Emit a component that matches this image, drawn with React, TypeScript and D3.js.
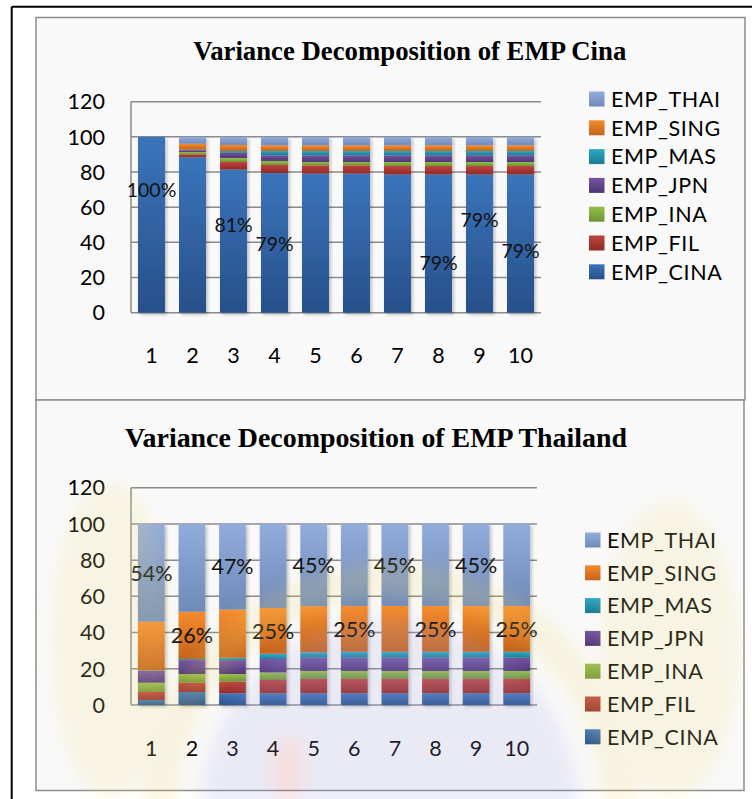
import React from 'react';
import * as d3 from 'd3';

// Forecast horizons
const periods = ['1', '2', '3', '4', '5', '6', '7', '8', '9', '10'];
const seriesKeys = ['EMP_CINA', 'EMP_FIL', 'EMP_INA', 'EMP_JPN', 'EMP_MAS', 'EMP_SING', 'EMP_THAI'];
const yTicks = [0, 20, 40, 60, 80, 100, 120];

// Variance decomposition of EMP Cina (%)
const cinaCINA = [100, 88.4, 81.4, 79.4, 79.1, 79.1, 78.6, 78.6, 78.6, 78.6];
const cinaFIL = [0, 1.7, 4.3, 4.6, 4.7, 4.7, 4.8, 4.8, 4.8, 4.8];
const cinaINA = [0, 1.3, 2.3, 2.3, 1.9, 1.9, 2.3, 2.3, 2.3, 2.3];
const cinaJPN = [0, 1.0, 3.0, 3.2, 3.8, 3.8, 3.8, 3.8, 3.8, 3.8];
const cinaMAS = [0, 0.3, 1.0, 2.5, 2.5, 2.5, 2.5, 2.5, 2.5, 2.5];
const cinaSING = [0, 3.4, 3.4, 3.2, 3.2, 3.2, 3.2, 3.2, 3.2, 3.2];
const cinaTHAI = [0, 3.9, 4.6, 4.8, 4.8, 4.8, 4.8, 4.8, 4.8, 4.8];
// labelled EMP_CINA bars and the height (in % units) where each label sits
const cinaLabelPeriods = ['1', '3', '4', '8', '9', '10'];
const cinaLabelHeights = [70, 50, 39, 28.4, 52.7, 35.1];

// Variance decomposition of EMP Thailand (%)
const thaiCINA = [2.8, 7.2, 6.4, 6.4, 6.4, 6.4, 6.4, 6.4, 6.4, 6.4];
const thaiFIL = [4.4, 5.1, 6.5, 7.4, 8.0, 8.0, 8.0, 8.0, 8.0, 8.0];
const thaiINA = [5.1, 4.8, 4.2, 4.2, 4.4, 4.4, 4.4, 4.4, 4.4, 4.4];
const thaiJPN = [6.5, 7.7, 7.7, 7.4, 7.3, 7.3, 7.3, 7.3, 7.3, 7.3];
const thaiMAS = [0.3, 0.6, 1.3, 2.9, 3.0, 3.3, 3.3, 3.3, 3.3, 3.3];
const thaiSING = [26.9, 26.1, 26.6, 25.3, 25.5, 25.3, 25.3, 25.3, 25.3, 25.3];
const thaiTHAI = [54.0, 48.5, 47.3, 46.4, 45.4, 45.3, 45.3, 45.3, 45.3, 45.3];
// which segment carries the data label on each bar
const thaiLabelSeries = ['EMP_THAI', 'EMP_SING', 'EMP_THAI', 'EMP_SING', 'EMP_THAI', 'EMP_SING', 'EMP_THAI', 'EMP_SING', 'EMP_THAI', 'EMP_SING'];

const gradientStops: Record<string, [string, string]> = {
  EMP_CINA: ['#3b74bb', '#27508a'],
  EMP_FIL: ['#c1413d', '#8e2a28'],
  EMP_INA: ['#95be4c', '#6e9334'],
  EMP_JPN: ['#7553a3', '#4e3676'],
  EMP_MAS: ['#2fa9c5', '#1b7b92'],
  EMP_SING: ['#f68b2d', '#c3621b'],
  EMP_THAI: ['#92acdc', '#6f8ab8'],
};

const numFont = 'Lato, "Open Sans", sans-serif';
const titleFont = '"Liberation Serif", "Times New Roman", serif';

type PanelProps = {
  title: string;
  titleX: number;
  titleY: number;
  titleSize: number;
  titleWidth: number;
  columns: Record<string, number[]>;
  top: number;
  bottom: number;
  left: number;
  right: number;
  xLabelY: number;
  legendX: number;
  legendY0: number;
  legendStep: number;
  labelSize: number;
  labels: { period: string; key: string; at?: number }[];
};

function Panel(p: PanelProps) {
  const rows = periods.map((period, i) => {
    const r: any = { period };
    seriesKeys.forEach((k) => (r[k] = p.columns[k][i]));
    return r;
  });
  const stacked = d3.stack<any>().keys(seriesKeys)(rows);
  const x = d3.scaleBand<string>().domain(periods).range([p.left, p.right]).paddingInner(0.34).paddingOuter(0.17);
  const y = d3.scaleLinear().domain([0, 120]).range([p.bottom, p.top]);
  const legendOrder = [...seriesKeys].reverse();

  return (
    <g>
      <text
        x={p.titleX}
        y={p.titleY}
        fontFamily={titleFont}
        fontWeight="bold"
        fontSize={p.titleSize}
        textLength={p.titleWidth}
        lengthAdjust="spacingAndGlyphs"
        fill="#000"
      >
        {p.title}
      </text>

      {/* grid lines and axes */}
      {yTicks.map((t) => (
        <line key={t} x1={p.left} x2={p.right} y1={y(t)} y2={y(t)} stroke="#8a8a8a" strokeWidth={1.5} />
      ))}
      <line x1={p.left} x2={p.left} y1={y(120)} y2={y(0)} stroke="#8a8a8a" strokeWidth={1.5} />
      {yTicks.map((t) => (
        <text key={t} x={105} y={y(t)} dy="0.36em" textAnchor="end" fontFamily={numFont} fontSize={21.5} fill="#000">
          {t}
        </text>
      ))}

      {/* stacked bars */}
      <g filter="url(#barShadow)">
        {stacked.map((layer) =>
          layer.map((d, i) => {
            const h = y(d[0]) - y(d[1]);
            if (h <= 0) return null;
            return (
              <rect
                key={layer.key + i}
                x={x(periods[i])}
                y={y(d[1])}
                width={x.bandwidth()}
                height={h}
                fill={`url(#grad-${layer.key})`}
              />
            );
          })
        )}
      </g>

      {periods.map((per) => (
        <text
          key={per}
          x={(x(per) as number) + x.bandwidth() / 2}
          y={p.xLabelY}
          dy="0.36em"
          textAnchor="middle"
          fontFamily={numFont}
          fontSize={21.5}
          fill="#000"
        >
          {per}
        </text>
      ))}

      {/* data labels */}
      {p.labels.map((l) => {
        const i = periods.indexOf(l.period);
        const layer = stacked.find((s) => s.key === l.key)!;
        const seg = layer[i];
        const value = seg[1] - seg[0];
        const at = l.at !== undefined ? l.at : (seg[0] + seg[1]) / 2;
        return (
          <text
            key={l.period + l.key}
            x={(x(l.period) as number) + x.bandwidth() / 2}
            y={y(at)}
            dy="0.36em"
            textAnchor="middle"
            fontFamily={numFont}
            fontSize={p.labelSize}
            fill="#111"
          >
            {`${Math.round(value)}%`}
          </text>
        );
      })}

      {/* legend */}
      {legendOrder.map((k, i) => {
        const cy = p.legendY0 + i * p.legendStep;
        return (
          <g key={k}>
            <rect x={p.legendX} y={cy - 7.5} width={15.5} height={15} fill={`url(#grad-${k})`} />
            <text
              x={p.legendX + 22}
              y={cy}
              dy="0.36em"
              fontFamily={numFont}
              fontSize={21.5}
              letterSpacing={0.6}
              fill="#000"
            >
              {k}
            </text>
          </g>
        );
      })}
    </g>
  );
}

export default function App() {
  const cinaColumns = {
    EMP_CINA: cinaCINA,
    EMP_FIL: cinaFIL,
    EMP_INA: cinaINA,
    EMP_JPN: cinaJPN,
    EMP_MAS: cinaMAS,
    EMP_SING: cinaSING,
    EMP_THAI: cinaTHAI,
  };
  const thaiColumns = {
    EMP_CINA: thaiCINA,
    EMP_FIL: thaiFIL,
    EMP_INA: thaiINA,
    EMP_JPN: thaiJPN,
    EMP_MAS: thaiMAS,
    EMP_SING: thaiSING,
    EMP_THAI: thaiTHAI,
  };
  const cinaLabels = cinaLabelPeriods.map((period, i) => ({ period, key: 'EMP_CINA', at: cinaLabelHeights[i] }));
  const thaiLabels = periods.map((period, i) => ({ period, key: thaiLabelSeries[i] }));

  return (
    <svg
      width={752}
      height={799}
      style={{ position: 'absolute', left: 0, top: 0, background: '#fff' }}
      xmlns="http://www.w3.org/2000/svg"
    >
      <defs>
        {seriesKeys.map((k) => (
          <linearGradient key={k} id={`grad-${k}`} x1="0" y1="0" x2="0" y2="1">
            <stop offset="0" stopColor={gradientStops[k][0]} />
            <stop offset="1" stopColor={gradientStops[k][1]} />
          </linearGradient>
        ))}
        <filter id="barShadow" x="-10%" y="-10%" width="130%" height="130%">
          <feDropShadow dx={2} dy={2} stdDeviation={1.6} floodColor="#000" floodOpacity={0.22} />
        </filter>
        <filter id="soft" x="-20%" y="-20%" width="140%" height="140%">
          <feGaussianBlur stdDeviation={8} />
        </filter>
      </defs>

      <rect x={0} y={0} width={752} height={799} fill="#fff" />
      {/* outer frame */}
      <line x1={11.7} x2={11.7} y1={6.7} y2={799} stroke="#000" strokeWidth={2} />
      <line x1={11.7} x2={752} y1={6.7} y2={6.7} stroke="#000" strokeWidth={2} />

      {/* chart boxes */}
      <rect x={36} y={17.5} width={709} height={382.5} fill="#f9f9f9" stroke="#8c8c8c" strokeWidth={1.5} />
      <rect x={36} y={400} width={708} height={390.5} fill="#f9f9f9" stroke="#8c8c8c" strokeWidth={1.5} />

      <Panel
        title="Variance Decomposition of EMP Cina"
        titleX={193.3}
        titleY={60}
        titleSize={26.5}
        titleWidth={433}
        columns={cinaColumns}
        top={101.7}
        bottom={312.7}
        left={131}
        right={541}
        xLabelY={355}
        legendX={589}
        legendY0={99}
        legendStep={28.8}
        labelSize={19.5}
        labels={cinaLabels}
      />

      <Panel
        title="Variance Decomposition of EMP Thailand"
        titleX={125}
        titleY={447}
        titleSize={27.6}
        titleWidth={502}
        columns={thaiColumns}
        top={487.7}
        bottom={705}
        left={131}
        right={537}
        xLabelY={748}
        legendX={585}
        legendY0={540}
        legendStep={32.8}
        labelSize={21.5}
        labels={thaiLabels}
      />

      {/* faint seal printed across the lower chart */}
      <g opacity={0.18} filter="url(#soft)" pointerEvents="none">
        <circle cx={390} cy={810} r={230} fill="none" stroke="#f1d76a" strokeWidth={34} />
        <circle cx={390} cy={810} r={190} fill="#a9a9e8" />
        <ellipse cx={110} cy={640} rx={60} ry={160} fill="#f3e08a" />
        <ellipse cx={670} cy={650} rx={70} ry={150} fill="#f3e08a" />
        <ellipse cx={288} cy={770} rx={18} ry={36} fill="#e06a6a" />
      </g>
    </svg>
  );
}
